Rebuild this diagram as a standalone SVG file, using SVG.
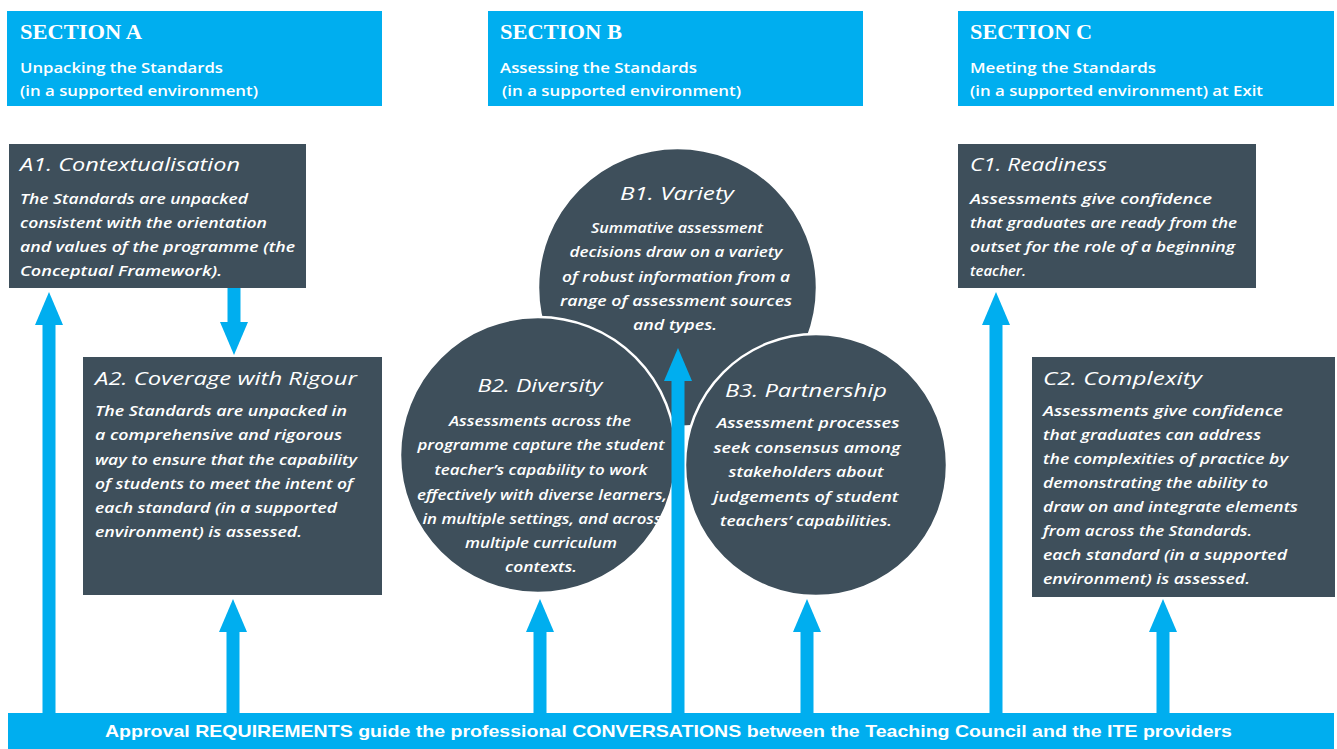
<svg xmlns="http://www.w3.org/2000/svg" width="1337" height="749" viewBox="0 0 1337 749">
  <defs>
    <marker id="head" viewBox="0 0 33 28" refX="0" refY="14" markerWidth="33" markerHeight="28" markerUnits="userSpaceOnUse" orient="auto">
      <path d="M0,0 L33,14 L0,28 Z" fill="#00AEEF"/>
    </marker>
    <style>
      .hdr { fill: #00AEEF; }
      .box { fill: #3E4F5B; }
      .circ { fill: #3E4F5B; stroke: #FFFFFF; stroke-width: 2.5; }
      .sec { font-family: "Liberation Serif", serif; font-weight: bold; font-size: 22px; fill: #FFFFFF; }
      .sub { font-family: "Open Sans", "Liberation Sans", sans-serif; font-weight: 600; font-size: 14.5px; fill: #FFFFFF; }
      .ttl { font-family: "Open Sans", "Liberation Sans", sans-serif; font-style: italic; font-weight: 400; font-size: 19px; fill: #FFFFFF; }
      .body { font-family: "Open Sans", "Liberation Sans", sans-serif; font-style: italic; font-weight: 600; font-size: 14.5px; fill: #FFFFFF; }
      .mid { text-anchor: middle; }
      .barText { font-family: "Liberation Sans", "Arial", sans-serif; font-weight: bold; font-size: 17px; fill: #FFFFFF; }
      .conn { stroke: #00AEEF; stroke-width: 13; fill: none; marker-end: url(#head); }
    </style>
  </defs>
  <rect x="0" y="0" width="1337" height="749" fill="#FFFFFF"/>

  <g id="sectionA">
    <rect class="hdr" x="7" y="11" width="375" height="95"/>
    <text class="sec" x="20" y="39" textLength="122" lengthAdjust="spacingAndGlyphs">SECTION A</text>
    <text class="sub" x="20" y="73" textLength="203" lengthAdjust="spacingAndGlyphs">Unpacking the Standards</text>
    <text class="sub" x="20" y="96" textLength="238" lengthAdjust="spacingAndGlyphs">(in a supported environment)</text>
  </g>
  <g id="sectionB">
    <rect class="hdr" x="488" y="11" width="375" height="95"/>
    <text class="sec" x="500" y="39" textLength="122" lengthAdjust="spacingAndGlyphs">SECTION B</text>
    <text class="sub" x="500" y="73" textLength="197" lengthAdjust="spacingAndGlyphs">Assessing the Standards</text>
    <text class="sub" x="502" y="96" textLength="239" lengthAdjust="spacingAndGlyphs">(in a supported environment)</text>
  </g>
  <g id="sectionC">
    <rect class="hdr" x="958" y="11" width="376" height="95"/>
    <text class="sec" x="970" y="39" textLength="122" lengthAdjust="spacingAndGlyphs">SECTION C</text>
    <text class="sub" x="970" y="73" textLength="186" lengthAdjust="spacingAndGlyphs">Meeting the Standards</text>
    <text class="sub" x="970" y="96" textLength="293" lengthAdjust="spacingAndGlyphs">(in a supported environment) at Exit</text>
  </g>

  <g id="A1">
    <rect class="box" x="9" y="144" width="297" height="144"/>
    <text class="ttl" x="20" y="171" textLength="220" lengthAdjust="spacingAndGlyphs">A1. Contextualisation</text>
    <text class="body" x="20" y="204" textLength="228" lengthAdjust="spacingAndGlyphs">The Standards are unpacked</text>
    <text class="body" x="20" y="228" textLength="247" lengthAdjust="spacingAndGlyphs">consistent with the orientation</text>
    <text class="body" x="20" y="252" textLength="275" lengthAdjust="spacingAndGlyphs">and values of the programme (the</text>
    <text class="body" x="20" y="276" textLength="202" lengthAdjust="spacingAndGlyphs">Conceptual Framework).</text>
  </g>

  <g id="A2">
    <rect class="box" x="83" y="357" width="299" height="238"/>
    <text class="ttl" x="95" y="385" textLength="262" lengthAdjust="spacingAndGlyphs">A2. Coverage with Rigour</text>
    <text class="body" x="95" y="416" textLength="252" lengthAdjust="spacingAndGlyphs">The Standards are unpacked in</text>
    <text class="body" x="95" y="440" textLength="247" lengthAdjust="spacingAndGlyphs">a comprehensive and rigorous</text>
    <text class="body" x="95" y="465" textLength="262" lengthAdjust="spacingAndGlyphs">way to ensure that the capability</text>
    <text class="body" x="95" y="489" textLength="258" lengthAdjust="spacingAndGlyphs">of students to meet the intent of</text>
    <text class="body" x="95" y="513" textLength="242" lengthAdjust="spacingAndGlyphs">each standard (in a supported</text>
    <text class="body" x="95" y="537" textLength="207" lengthAdjust="spacingAndGlyphs">environment) is assessed.</text>
  </g>

  <g id="B1">
    <circle class="circ" cx="677.5" cy="287.5" r="139.5"/>
    <text class="ttl mid" x="677" y="200" textLength="114" lengthAdjust="spacingAndGlyphs">B1. Variety</text>
    <text class="body mid" x="677" y="233" textLength="172" lengthAdjust="spacingAndGlyphs">Summative assessment</text>
    <text class="body mid" x="676" y="257" textLength="213" lengthAdjust="spacingAndGlyphs">decisions draw on a variety</text>
    <text class="body mid" x="676" y="282" textLength="228" lengthAdjust="spacingAndGlyphs">of robust information from a</text>
    <text class="body mid" x="676" y="306" textLength="232" lengthAdjust="spacingAndGlyphs">range of assessment sources</text>
    <text class="body mid" x="675" y="330" textLength="84" lengthAdjust="spacingAndGlyphs">and types.</text>
  </g>

  <g id="B2">
    <circle class="circ" cx="538" cy="455" r="138"/>
    <text class="ttl mid" x="540" y="392" textLength="125" lengthAdjust="spacingAndGlyphs">B2. Diversity</text>
    <text class="body mid" x="540" y="426" textLength="182" lengthAdjust="spacingAndGlyphs">Assessments across the</text>
    <text class="body mid" x="541" y="450" textLength="247" lengthAdjust="spacingAndGlyphs">programme capture the student</text>
    <text class="body mid" x="541" y="475" textLength="213" lengthAdjust="spacingAndGlyphs">teacher’s capability to work</text>
    <text class="body mid" x="542" y="500" textLength="250" lengthAdjust="spacingAndGlyphs">effectively with diverse learners,</text>
    <text class="body mid" x="542" y="524" textLength="239" lengthAdjust="spacingAndGlyphs">in multiple settings, and across</text>
    <text class="body mid" x="541" y="548" textLength="152" lengthAdjust="spacingAndGlyphs">multiple curriculum</text>
    <text class="body mid" x="541" y="572" textLength="72" lengthAdjust="spacingAndGlyphs">contexts.</text>
  </g>

  <g id="B3">
    <circle class="circ" cx="816" cy="465" r="131"/>
    <text class="ttl mid" x="806" y="397" textLength="162" lengthAdjust="spacingAndGlyphs">B3. Partnership</text>
    <text class="body mid" x="808" y="428" textLength="183" lengthAdjust="spacingAndGlyphs">Assessment processes</text>
    <text class="body mid" x="807" y="453" textLength="187" lengthAdjust="spacingAndGlyphs">seek consensus among</text>
    <text class="body mid" x="806" y="477" textLength="155" lengthAdjust="spacingAndGlyphs">stakeholders about</text>
    <text class="body mid" x="806" y="502" textLength="185" lengthAdjust="spacingAndGlyphs">judgements of student</text>
    <text class="body mid" x="806" y="526" textLength="172" lengthAdjust="spacingAndGlyphs">teachers’ capabilities.</text>
  </g>

  <g id="C1">
    <rect class="box" x="958" y="144" width="298" height="144"/>
    <text class="ttl" x="970" y="171" textLength="137" lengthAdjust="spacingAndGlyphs">C1. Readiness</text>
    <text class="body" x="970" y="204" textLength="242" lengthAdjust="spacingAndGlyphs">Assessments give confidence</text>
    <text class="body" x="970" y="228" textLength="267" lengthAdjust="spacingAndGlyphs">that graduates are ready from the</text>
    <text class="body" x="970" y="252" textLength="265" lengthAdjust="spacingAndGlyphs">outset for the role of a beginning</text>
    <text class="body" x="970" y="276" textLength="56" lengthAdjust="spacingAndGlyphs">teacher.</text>
  </g>

  <g id="C2">
    <rect class="box" x="1032" y="357" width="303" height="240"/>
    <text class="ttl" x="1043" y="385" textLength="159" lengthAdjust="spacingAndGlyphs">C2. Complexity</text>
    <text class="body" x="1043" y="416" textLength="240" lengthAdjust="spacingAndGlyphs">Assessments give confidence</text>
    <text class="body" x="1043" y="440" textLength="218" lengthAdjust="spacingAndGlyphs">that graduates can address</text>
    <text class="body" x="1043" y="464" textLength="245" lengthAdjust="spacingAndGlyphs">the complexities of practice by</text>
    <text class="body" x="1043" y="488" textLength="225" lengthAdjust="spacingAndGlyphs">demonstrating the ability to</text>
    <text class="body" x="1043" y="512" textLength="255" lengthAdjust="spacingAndGlyphs">draw on and integrate elements</text>
    <text class="body" x="1043" y="536" textLength="209" lengthAdjust="spacingAndGlyphs">from across the Standards.</text>
    <text class="body" x="1043" y="560" textLength="244" lengthAdjust="spacingAndGlyphs">each standard (in a supported</text>
    <text class="body" x="1043" y="584" textLength="207" lengthAdjust="spacingAndGlyphs">environment) is assessed.</text>
  </g>

  <g id="bar">
    <rect class="hdr" x="8" y="713" width="1326" height="36"/>
    <text class="barText" x="105" y="737" textLength="1127" lengthAdjust="spacingAndGlyphs">Approval REQUIREMENTS guide the professional CONVERSATIONS between the Teaching Council and the ITE providers</text>
  </g>

  <g id="connectors">
    <line class="conn" x1="49" y1="713" x2="49" y2="325"/>
    <line class="conn" x1="234" y1="288" x2="234" y2="322"/>
    <line class="conn" x1="233" y1="713" x2="233" y2="632"/>
    <line class="conn" x1="540" y1="713" x2="540" y2="632"/>
    <line class="conn" x1="678" y1="713" x2="678" y2="381"/>
    <line class="conn" x1="807" y1="713" x2="807" y2="632"/>
    <line class="conn" x1="996" y1="713" x2="996" y2="325"/>
    <line class="conn" x1="1163" y1="713" x2="1163" y2="632"/>
  </g>
</svg>
